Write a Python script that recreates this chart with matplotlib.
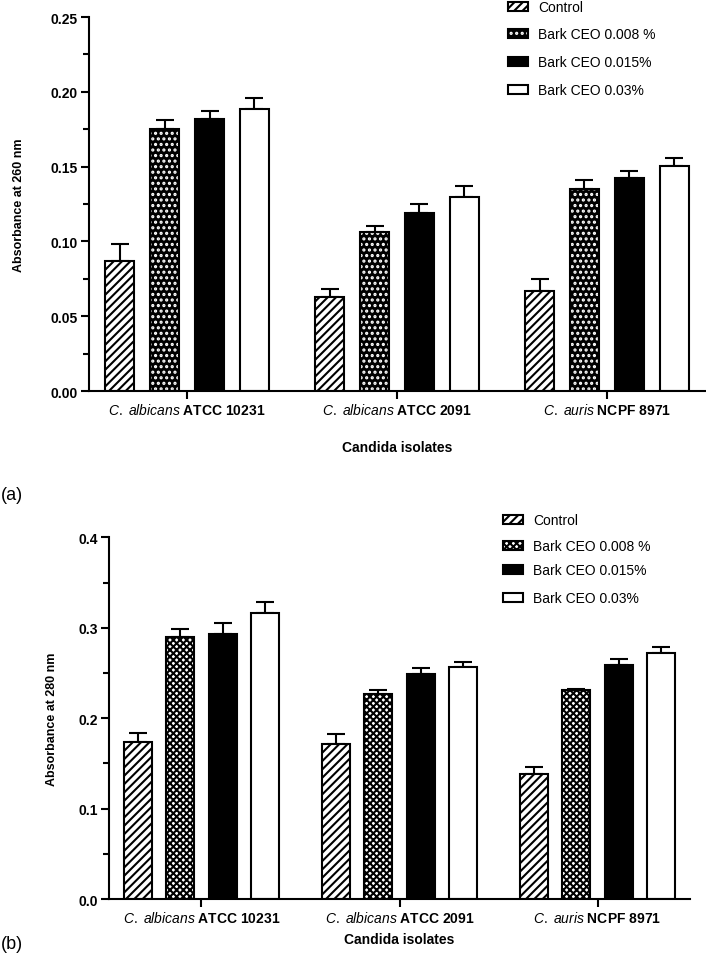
import matplotlib

matplotlib.use("Agg")
import matplotlib.pyplot as plt
import numpy as np
from matplotlib.patches import Rectangle

plt.rcParams.update(
    {
        "font.family": ["Liberation Sans", "DejaVu Sans"],
        "mathtext.fontset": "custom",
        "mathtext.rm": "Liberation Sans",
        "mathtext.it": "Liberation Sans:italic",
        "mathtext.bf": "Liberation Sans:bold",
        "hatch.linewidth": 1.5,
    }
)

W, H = 706, 962

isolates = [
    r"$\it{C.\ albicans}$ $\bf{ATCC\ 10231}$",
    r"$\it{C.\ albicans}$ $\bf{ATCC\ 2091}$",
    r"$\it{C.\ auris}$ $\bf{NCPF\ 8971}$",
]
treatments = ["Control", "Bark CEO 0.008 %", "Bark CEO 0.015%", "Bark CEO 0.03%"]

# absorbance at 260 nm, one list per treatment (over the three isolates)
a260_mean = [
    [0.087, 0.063, 0.067],
    [0.175, 0.106, 0.135],
    [0.182, 0.119, 0.1425],
    [0.1885, 0.1295, 0.1505],
]
a260_err = [
    [0.011, 0.005, 0.008],
    [0.006, 0.004, 0.006],
    [0.005, 0.006, 0.0045],
    [0.0075, 0.0075, 0.0055],
]
# absorbance at 280 nm
a280_mean = [
    [0.174, 0.171, 0.138],
    [0.290, 0.2265, 0.231],
    [0.293, 0.2485, 0.2585],
    [0.316, 0.257, 0.2715],
]
a280_err = [
    [0.010, 0.012, 0.008],
    [0.009, 0.0045, 0.0015],
    [0.012, 0.0065, 0.0065],
    [0.013, 0.005, 0.0075],
]


def px(x, y):
    """figure pixels (from top-left) -> figure fraction"""
    return x / W, 1 - y / H


def bar_style(i, panel_id):
    """facecolor, hatch colour, hatch for treatment i."""
    if i == 0:
        return "white", "black", "////"
    if i == 1:
        if panel_id == "a":
            return "black", "white", "..."
        return "white", "black", "xxxxx"
    if i == 2:
        return "black", "black", None
    return "white", "black", None


def panel(box, means, errs, ylim, yticks, yminor, fmt, ylabel, ylabel_x, xlabel_y,
          tag, tag_y, legend_rows, legend_x, panel_id):
    l, t, r, b = box
    ax = fig.add_axes([l / W, 1 - b / H, (r - l) / W, (b - t) / H])
    step, width = 0.214, 0.14
    groups = np.arange(len(isolates))
    for i in range(len(treatments)):
        xs = groups + (i - 1.5) * step
        fc, hc, hatch = bar_style(i, panel_id)
        # fill + hatch first, then a plain black outline on top
        ax.bar(xs, means[i], width, color=fc, edgecolor=hc, hatch=hatch, linewidth=0, zorder=2)
        ax.bar(xs, means[i], width, color="none", edgecolor="black", linewidth=1.5, zorder=3)
        ax.errorbar(xs, means[i], yerr=[np.zeros(len(xs)), errs[i]], fmt="none", ecolor="black",
                    elinewidth=1.5, capsize=6.5, capthick=1.5, zorder=1)

    ax.set_xlim(-0.467, 2.467)
    ax.set_ylim(*ylim)
    ax.set_yticks(yticks)
    ax.set_yticks(yminor, minor=True)
    ax.set_yticklabels([fmt.format(v) for v in yticks], fontweight="bold", fontsize=10)
    ax.set_xticks(groups)
    ax.set_xticklabels(isolates, fontsize=10)
    for s in ["top", "right"]:
        ax.spines[s].set_visible(False)
    for s in ["left", "bottom"]:
        ax.spines[s].set_linewidth(1.5)
    ax.tick_params(axis="both", which="major", length=6, width=1.5, pad=2)
    ax.tick_params(axis="y", which="minor", length=4, width=1.5)

    fig.text(*px(ylabel_x, (t + b) / 2), ylabel, rotation=90, ha="center", va="center",
             fontweight="bold", fontsize=9)
    fig.text(*px((l + r) / 2, xlabel_y), "Candida isolates", ha="center", va="center",
             fontweight="bold", fontsize=10)
    fig.text(*px(1, tag_y), tag, ha="left", va="center", fontsize=13)

    # legend placed by hand, rows are not evenly spaced in the original
    for i, (name, ry) in enumerate(zip(treatments, legend_rows)):
        fc, hc, hatch = bar_style(i, panel_id)
        lx, ly = px(legend_x, ry + 4)
        size = (20 / W, 9 / H)
        fig.patches.append(Rectangle((lx, ly), *size, transform=fig.transFigure,
                                     facecolor=fc, edgecolor=hc, hatch=hatch, linewidth=0))
        fig.patches.append(Rectangle((lx, ly), *size, transform=fig.transFigure,
                                     facecolor="none", edgecolor="black", linewidth=1.5))
        fig.text(*px(legend_x + 30, ry), name, ha="left", va="center", fontsize=10)
    return ax


fig = plt.figure(figsize=(W / 100, H / 100), dpi=100)

# axes boxes in pixels: left, top, right, bottom
panel((89, 18, 705, 392), a260_mean, a260_err, (0, 0.25),
      [0, 0.05, 0.10, 0.15, 0.20, 0.25], [0.025, 0.075, 0.125, 0.175, 0.225], "{:.2f}",
      "Absorbance at 260 nm", 19, 448, "(a)", 496, [8, 35, 63, 91], 508, "a")
panel((109, 538.3, 690, 900), a280_mean, a280_err, (0, 0.4),
      [0, 0.1, 0.2, 0.3, 0.4], [0.05, 0.15, 0.25, 0.35], "{:.1f}",
      "Absorbance at 280 nm", 52, 940, "(b)", 945, [521, 547, 571, 599], 503, "b")

fig.savefig("out.png", dpi=100)
